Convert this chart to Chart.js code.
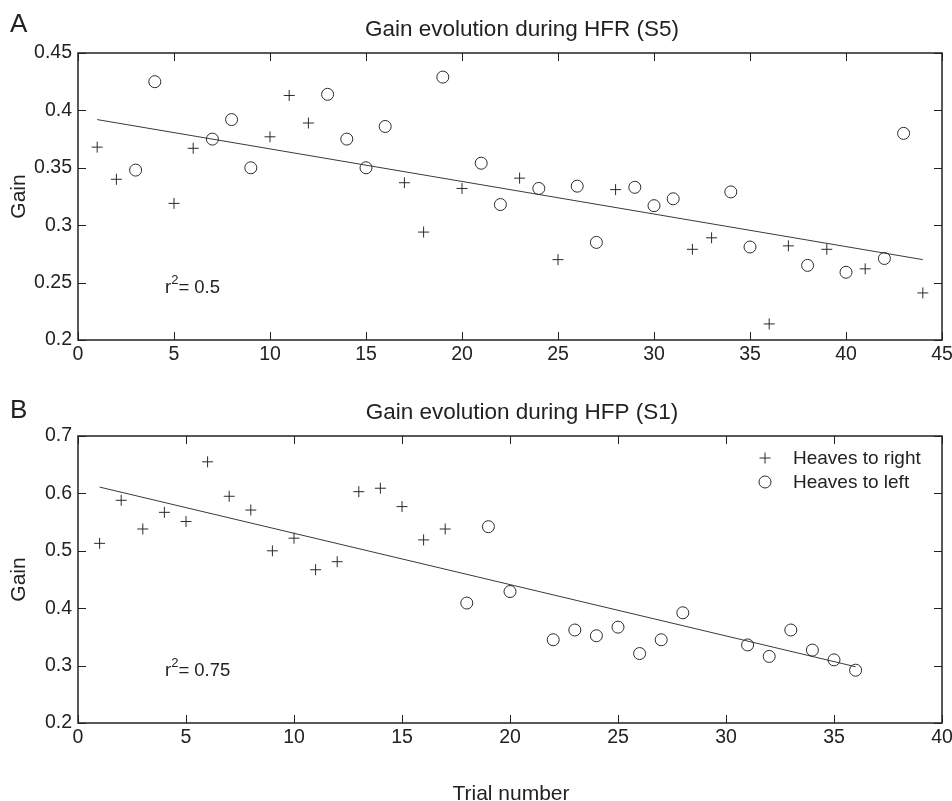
<!DOCTYPE html>
<html>
<head>
<meta charset="utf-8">
<title>Gain evolution</title>
<script src="https://cdn.jsdelivr.net/npm/chart.js@4.4.1/dist/chart.umd.min.js"></script>
<style>
  html, body { margin: 0; padding: 0; background: #fff; }
  #wrap { position: relative; width: 952px; height: 801px; overflow: hidden; }
  canvas { position: absolute; left: 0; }
  #chartA { top: 0; }
  #chartB { top: 383px; }
</style>
</head>
<body>
<div id="wrap">
  <canvas id="chartA" width="952" height="380"></canvas>
  <canvas id="chartB" width="952" height="418"></canvas>
</div>
<script>
'use strict';

// Panel A: HFR, subject S5
const trialsRightA = [1, 2, 5, 6, 10, 11, 12, 17, 18, 20, 23, 25, 28, 32, 33, 36, 37, 39, 41, 44];
const gainRightA = [0.368, 0.340, 0.319, 0.367, 0.377, 0.413, 0.389, 0.337, 0.294, 0.332,
                    0.341, 0.270, 0.331, 0.279, 0.289, 0.214, 0.282, 0.279, 0.262, 0.241];
const trialsLeftA = [3, 4, 7, 8, 9, 13, 14, 15, 16, 19, 21, 22, 24, 26, 27, 29, 30, 31, 34, 35, 38, 40, 42, 43];
const gainLeftA = [0.348, 0.425, 0.375, 0.392, 0.350, 0.414, 0.375, 0.350, 0.386, 0.429, 0.354, 0.318,
                   0.332, 0.334, 0.285, 0.333, 0.317, 0.323, 0.329, 0.281, 0.265, 0.259, 0.271, 0.380];
const fitTrialsA = [1, 44];
const fitGainA = [0.392, 0.270];
const xTicksA = [0, 5, 10, 15, 20, 25, 30, 35, 40, 45];
const yTicksA = [0.2, 0.25, 0.3, 0.35, 0.4, 0.45];

// Panel B: HFP, subject S1
const trialsRightB = [1, 2, 3, 4, 5, 6, 7, 8, 9, 10, 11, 12, 13, 14, 15, 16, 17];
const gainRightB = [0.513, 0.588, 0.538, 0.567, 0.551, 0.655, 0.595, 0.571, 0.500,
                    0.522, 0.467, 0.481, 0.603, 0.609, 0.577, 0.519, 0.538];
const trialsLeftB = [18, 19, 20, 22, 23, 24, 25, 26, 27, 28, 31, 32, 33, 34, 35, 36];
const gainLeftB = [0.409, 0.542, 0.429, 0.345, 0.362, 0.352, 0.367, 0.321,
                   0.345, 0.392, 0.336, 0.316, 0.362, 0.327, 0.310, 0.292];
const fitTrialsB = [1, 36];
const fitGainB = [0.611, 0.298];
const xTicksB = [0, 5, 10, 15, 20, 25, 30, 35, 40];
const yTicksB = [0.2, 0.3, 0.4, 0.5, 0.6, 0.7];

const FONT = "'Liberation Sans', Arial, Helvetica, sans-serif";
const INK = '#222';
const MARK = '#2b2b2b';

function toPoints(xs, ys) {
  return xs.map((x, i) => ({ x: x, y: ys[i] }));
}

// frame, inward ticks and all the figure text
const figureDecor = {
  id: 'figureDecor',
  afterDraw(chart, args, opts) {
    const ctx = chart.ctx;
    const a = chart.chartArea;
    const xs = chart.scales.x;
    const ys = chart.scales.y;
    ctx.save();
    ctx.strokeStyle = INK;
    ctx.lineWidth = 1.5;
    ctx.strokeRect(a.left, a.top, a.right - a.left, a.bottom - a.top);

    ctx.lineWidth = 1;
    ctx.beginPath();
    xs.ticks.forEach(t => {
      const px = Math.round(xs.getPixelForValue(t.value)) + 0.5;
      ctx.moveTo(px, a.bottom); ctx.lineTo(px, a.bottom - 8);
      ctx.moveTo(px, a.top); ctx.lineTo(px, a.top + 8);
    });
    ys.ticks.forEach(t => {
      const py = Math.round(ys.getPixelForValue(t.value)) + 0.5;
      ctx.moveTo(a.left, py); ctx.lineTo(a.left + 8, py);
      ctx.moveTo(a.right, py); ctx.lineTo(a.right - 8, py);
    });
    ctx.stroke();

    ctx.fillStyle = INK;
    ctx.textBaseline = 'alphabetic';

    // panel letter
    ctx.font = '26px ' + FONT;
    ctx.textAlign = 'left';
    ctx.fillText(opts.panel, 10, opts.panelY);

    // title
    ctx.font = '22.5px ' + FONT;
    ctx.textAlign = 'center';
    ctx.fillText(opts.title, 522, 36);

    // y axis title
    ctx.save();
    ctx.translate(25, (a.top + a.bottom) / 2);
    ctx.rotate(-Math.PI / 2);
    ctx.font = '21px ' + FONT;
    ctx.textAlign = 'center';
    ctx.fillText('Gain', 0, 0);
    ctx.restore();

    // r squared
    const rx = a.left + 87;
    const ry = a.top + 240;
    ctx.textAlign = 'left';
    ctx.font = '18.5px ' + FONT;
    ctx.fillText('r', rx, ry);
    let w = ctx.measureText('r').width;
    ctx.font = '13px ' + FONT;
    ctx.fillText('2', rx + w, ry - 9);
    w += ctx.measureText('2').width;
    ctx.font = '18.5px ' + FONT;
    ctx.fillText('= ' + opts.r2, rx + w, ry);

    if (opts.legend) {
      const lx = a.right - 177;
      const rows = [
        { style: 'cross', label: 'Heaves to right', y: a.top + 22 },
        { style: 'circle', label: 'Heaves to left', y: a.top + 46 }
      ];
      ctx.font = '19px ' + FONT;
      ctx.textBaseline = 'middle';
      rows.forEach(r => {
        ctx.strokeStyle = MARK;
        ctx.fillStyle = '#fff';
        ctx.lineWidth = 1;
        Chart.helpers.drawPoint(ctx, { pointStyle: r.style, radius: r.style === 'cross' ? 5.5 : 6, borderWidth: 1, rotation: 0 }, lx, r.y);
        ctx.fillStyle = INK;
        ctx.fillText(r.label, lx + 28, r.y + 1);
      });
    }

    if (opts.xTitle) {
      ctx.font = '21px ' + FONT;
      ctx.textAlign = 'center';
      ctx.textBaseline = 'alphabetic';
      ctx.fillText(opts.xTitle, 511, chart.height - 1);
    }
    ctx.restore();
  }
};

function makePanel(canvasId, cfg) {
  const markerBase = {
    borderColor: MARK,
    borderWidth: 1,
    backgroundColor: 'rgba(255,255,255,0)'
  };
  return new Chart(document.getElementById(canvasId), {
    type: 'scatter',
    data: {
      datasets: [{
        label: 'Heaves to right',
        data: toPoints(cfg.trialsRight, cfg.gainRight),
        pointStyle: 'cross',
        pointRadius: 5.5,
        ...markerBase
      }, {
        label: 'Heaves to left',
        data: toPoints(cfg.trialsLeft, cfg.gainLeft),
        pointStyle: 'circle',
        pointRadius: 6,
        ...markerBase
      }, {
        label: 'fit',
        data: toPoints(cfg.fitTrials, cfg.fitGain),
        showLine: true,
        pointRadius: 0,
        borderColor: '#3a3a3a',
        borderWidth: 1
      }]
    },
    options: {
      responsive: false,
      animation: false,
      events: [],
      layout: { padding: { top: 53, right: 10, left: 0, bottom: 0 } },
      plugins: {
        legend: { display: false },
        tooltip: { enabled: false },
        figureDecor: cfg.decor
      },
      scales: {
        x: {
          type: 'linear',
          min: cfg.xTicks[0],
          max: cfg.xTicks[cfg.xTicks.length - 1],
          grid: { display: false, drawTicks: false },
          border: { display: false },
          afterBuildTicks: s => { s.ticks = cfg.xTicks.map(v => ({ value: v })); },
          afterFit: s => {
            s.height = cfg.xHeight;
            // end labels may spill past the plot edge, as in the printed figure
            s.paddingLeft = 0;
            s.paddingRight = 0;
          },
          ticks: {
            color: INK,
            padding: 3,
            maxRotation: 0,
            autoSkip: false,
            font: { family: FONT, size: 19.5 },
            callback: v => String(v)
          }
        },
        y: {
          type: 'linear',
          min: cfg.yTicks[0],
          max: cfg.yTicks[cfg.yTicks.length - 1],
          grid: { display: false, drawTicks: false },
          border: { display: false },
          afterBuildTicks: s => { s.ticks = cfg.yTicks.map(v => ({ value: v })); },
          afterFit: s => { s.width = 78; },
          ticks: {
            color: INK,
            padding: 6,
            autoSkip: false,
            font: { family: FONT, size: 19.5 },
            callback: v => String(v)
          }
        }
      }
    },
    plugins: [figureDecor]
  });
}

makePanel('chartA', {
  trialsRight: trialsRightA, gainRight: gainRightA,
  trialsLeft: trialsLeftA, gainLeft: gainLeftA,
  fitTrials: fitTrialsA, fitGain: fitGainA,
  xTicks: xTicksA, yTicks: yTicksA,
  xHeight: 40,
  decor: { panel: 'A', panelY: 32, title: 'Gain evolution during HFR (S5)', r2: '0.5', legend: false }
});

makePanel('chartB', {
  trialsRight: trialsRightB, gainRight: gainRightB,
  trialsLeft: trialsLeftB, gainLeft: gainLeftB,
  fitTrials: fitTrialsB, fitGain: fitGainB,
  xTicks: xTicksB, yTicks: yTicksB,
  xHeight: 78,
  decor: { panel: 'B', panelY: 35, title: 'Gain evolution during HFP (S1)', r2: '0.75', legend: true, xTitle: 'Trial number' }
});
</script>
</body>
</html>
